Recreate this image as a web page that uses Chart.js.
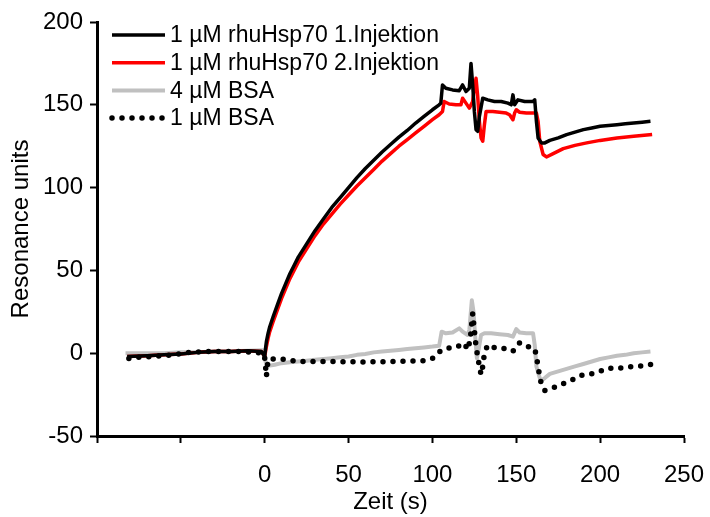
<!DOCTYPE html>
<html><head><meta charset="utf-8">
<script src="https://cdn.jsdelivr.net/npm/chart.js@4/dist/chart.umd.min.js"></script>
<style>html,body{margin:0;padding:0;background:#fff}#wrap{width:710px;height:517px}</style>
</head><body><div id="wrap"><canvas id="c" width="710" height="517"></canvas></div>
<script>
// ---- data ----
const seriesLabels = ['1 \u00b5M rhuHsp70 1.Injektion', '1 \u00b5M rhuHsp70 2.Injektion', '4 \u00b5M BSA', '1 \u00b5M BSA'];

const tHsp1 = [-82,-70,-60,-50,-40,-30,-20,-10,-2,0,0.5,1,2,3,5,7.5,10,12.5,15,17.5,20,25,30,35,40,45,50,55,60,65,70,75,80,85,90,95,100,104,105,106,108,112,116,118,120,122,123,124,125,126,127,128,130,133,137,141,145,147,148,149,151,155,160,161,162,163,165,167,170,175,180,185,190,195,200,205,210,215,220,225,230];
const vHsp1 = [-2,-1.5,-1,-0.5,0.5,1,1,1.5,1,-2,3,7,12,16,22,29,36,42,48,53,58,66,74,81,88,94,100,106,111.5,116.5,121.5,126,130.5,134.5,139,143,147,150,151,162,160,159,158.5,162,158,160,175,162,146,135,134,143,154,153,152,152,151,150,156,150,153,152,152,153,140,130,127,127,128.5,130,132,133.5,135,136,137,137.5,138,138.5,139,139.5,140];

const tHsp2 = [-82,-70,-60,-50,-40,-30,-20,-10,-2,0,0.5,1,2,3,5,7.5,10,12.5,15,17.5,20,25,30,35,40,45,50,55,60,65,70,75,80,85,90,95,100,104,106,107,110,114,117,118,120,122,124,125,126,127,128,129,130,131,132,136,140,144,146,148,149,150,152,156,160,162,163,164,166,168,172,178,185,192,200,210,220,231];
const vHsp2 = [-2,-1.5,-1,-0.5,0.5,1,1,1.5,1,-2,1,4,9,13,19,26,33,39,45,50,55,63,71,78,84,90,95.5,101,106,111,116,120.5,125,129,133,137,141,144,146,152,150.5,150,150,154,151,148,152,160,166,155,140,130,128,138,146,146,145.5,145,144,141,145,147,145.5,145,145,145,140,128,120,118.5,120.5,123.5,125.5,127,128.5,130,131,132];

const tBsa4 = [-83,-70,-60,-50,-40,-30,-20,-10,-1,0,1,3,6,10,15,20,25,30,35,40,45,50,55,60,65,70,75,80,85,90,95,100,104,105.5,108,112,116,118,121,122,123.5,124.5,125.5,126.5,127.5,129,131,135,140,145,148,150,152,156,160,161,162,164,165,167,170,175,180,185,190,195,200,205,210,215,220,225,230];
const vBsa4 = [0,0,0,0.5,0.5,1,1.2,1.5,1.8,-3,-7,-7.5,-7,-6,-5.5,-5,-4.5,-4,-3.5,-3,-2.5,-2,-1,-0.5,0.5,1,1.5,2,2.5,3,3.5,4,4.5,13,12,12.5,15,13,11,14,32,25,10,-3,2,11,12,12,11.5,11,10,14.5,12.5,12,12,5,-8,-15,-16.5,-15,-12.5,-11,-9.5,-8,-6.5,-5,-3.5,-2.5,-1.5,-1,0,0.5,1];

const tBsa1 = [-81,-75,-65,-55,-45,-35,-25,-15,-5,-1,0,0.5,1,2,4,10,20,40,60,80,95,100,104,108,114,119,121,122.5,124,125,126,127,128,129,130,131,133,138,144,148,152,156,161,162,163,164,165,167,173,178,184,189,195,200,205,210,216,221,227,232];
const vBsa1 = [-3.2,-2.5,-1.8,-1,0.5,1,1,1,0.5,0,-3,-8,-14,-4,-3.5,-3.5,-5,-5,-5.3,-5,-4.5,-3.2,0.8,3,3.5,6,2,8,24,14,4,-2,-8,-13,-8,0,5,3,2.8,1.2,6.3,4.2,2.8,-2,-8,-14.4,-18.8,-22.5,-20.5,-18.4,-15.8,-13.4,-12.4,-10.9,-9,-9.3,-8.3,-8,-7.5,-6.5];

const xTicks = [-100,-50,0,50,100,150,200,250];
const yTicks = [-50,0,50,100,150,200];
const xTitle = 'Zeit (s)';
const yTitle = 'Resonance units';

// ---- chart ----
const pts = (t, v) => t.map((x, i) => ({x: x, y: v[i]}));
const FAMILY = '"Liberation Sans", Arial, Helvetica, sans-serif';
const AXIS_FONT = {family: FAMILY, size: 24};
const LEGEND_FONT_SIZE = 23;

const lineLegend = {
  id: 'lineLegend',
  afterDraw(chart) {
    const ctx = chart.ctx;
    const x0 = 112, x1 = 165, tx = 170, y0 = 35, dy = 27.7;
    chart.data.datasets.forEach((ds, i) => {
      const y = y0 + i * dy;
      ctx.save();
      ctx.strokeStyle = ds.borderColor;
      ctx.lineWidth = ds.borderWidth;
      ctx.setLineDash(ds.borderDash || []);
      ctx.lineCap = ds.borderCapStyle || 'butt';
      ctx.beginPath(); ctx.moveTo(x0, y); ctx.lineTo(x1, y); ctx.stroke();
      ctx.setLineDash([]);
      ctx.fillStyle = '#000';
      ctx.font = LEGEND_FONT_SIZE + 'px ' + FAMILY;
      ctx.textBaseline = 'middle'; ctx.textAlign = 'left';
      ctx.fillText(ds.label, tx, y + 1);
      ctx.restore();
    });
  }
};

new Chart(document.getElementById('c'), {
  type: 'line',
  data: {
    datasets: [
      {label: seriesLabels[0], data: pts(tHsp1, vHsp1), borderColor: '#000000', borderWidth: 3.5, order: 1},
      {label: seriesLabels[1], data: pts(tHsp2, vHsp2), borderColor: '#ff0000', borderWidth: 3.5, order: 2},
      {label: seriesLabels[2], data: pts(tBsa4, vBsa4), borderColor: '#c0c0c0', borderWidth: 4, order: 3},
      {label: seriesLabels[3], data: pts(tBsa1, vBsa1), borderColor: '#000000', borderWidth: 5.5, borderDash: [0, 10], borderCapStyle: 'round', order: 0}
    ]
  },
  options: {
    responsive: false,
    animation: false,
    devicePixelRatio: 1,
    layout: {padding: {left: 0, top: 22, right: 26, bottom: 0}},
    elements: {point: {radius: 0}, line: {tension: 0, borderJoinStyle: 'round', fill: false}},
    plugins: {legend: {display: false}, tooltip: {enabled: false}},
    scales: {
      x: {
        type: 'linear', min: -100, max: 250,
        afterBuildTicks: s => { s.ticks = xTicks.map(v => ({value: v})); },
        afterFit: s => { s.height = 81; s.paddingLeft = 0; s.paddingRight = 0; },
        ticks: {callback: v => (v < 0 ? '' : v), font: AXIS_FONT, color: '#000', padding: 18, maxRotation: 0, autoSkip: false},
        grid: {drawOnChartArea: false, drawTicks: true, tickLength: 7, tickWidth: 2, tickColor: '#000'},
        border: {display: true, color: '#000', width: 3},
        title: {display: true, text: xTitle, font: AXIS_FONT, color: '#000', padding: {top: 0, bottom: 0}}
      },
      y: {
        type: 'linear', min: -50, max: 200,
        afterBuildTicks: s => { s.ticks = yTicks.map(v => ({value: v})); },
        afterFit: s => { s.width = 97; s.paddingTop = 0; s.paddingBottom = 0; },
        ticks: {font: AXIS_FONT, color: '#000', padding: 7},
        grid: {drawOnChartArea: false, drawTicks: true, tickLength: 7, tickWidth: 2, tickColor: '#000'},
        border: {display: true, color: '#000', width: 3},
        title: {display: true, text: yTitle, font: AXIS_FONT, color: '#000', padding: {top: 7, bottom: 0}}
      }
    }
  },
  plugins: [lineLegend]
});
</script>
</body></html>
